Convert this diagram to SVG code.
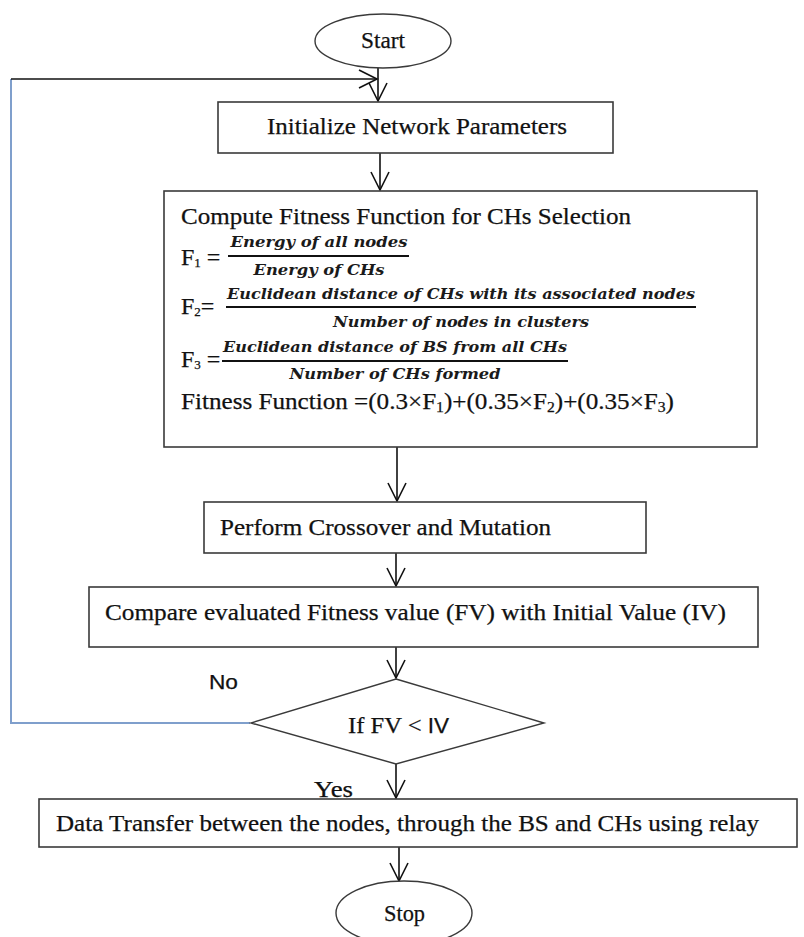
<svg xmlns="http://www.w3.org/2000/svg" width="804" height="937" viewBox="0 0 804 937">
<style>
.box{fill:#fff;stroke:#3a3a3a;stroke-width:1.6}
.t{font-family:"Liberation Serif","Times New Roman",serif;font-size:24px;fill:#111;stroke:#111;stroke-width:0.25}
.m{font-family:"DejaVu Serif",serif;font-style:italic;font-weight:bold;font-size:14px;fill:#1a1a1a}
.ln{stroke:#111;stroke-width:1.6;fill:none}
.fl{stroke:#111;stroke-width:2}
.fb{stroke:#7f9fcc;stroke-width:2;fill:none}
</style>
<defs>
<marker id="ah" markerWidth="24" markerHeight="24" refX="19" refY="10" orient="auto" markerUnits="userSpaceOnUse">
<path d="M1,1 L19,10 L1,19" fill="none" stroke="#111" stroke-width="1.6"/>
</marker>
</defs>
<rect width="804" height="937" fill="#fff"/>
<g id="connectors">
<line class="ln" x1="378" y1="68" x2="378" y2="101" marker-end="url(#ah)"/>
<polyline class="fb" points="250,723 11,723 11,79"/>
<line class="ln" x1="11" y1="79" x2="377" y2="79" stroke-width="2" marker-end="url(#ah)"/>
<line class="ln" x1="380" y1="153" x2="380" y2="190" marker-end="url(#ah)"/>
<line class="ln" x1="397" y1="447" x2="397" y2="501" marker-end="url(#ah)"/>
<line class="ln" x1="396" y1="553" x2="396" y2="586" marker-end="url(#ah)"/>
<line class="ln" x1="396" y1="647" x2="396" y2="678" marker-end="url(#ah)"/>
<line class="ln" x1="396" y1="764" x2="396" y2="798" marker-end="url(#ah)"/>
<line class="ln" x1="399" y1="847" x2="399" y2="881" marker-end="url(#ah)"/>
<text x="209" y="689" font-family="Liberation Sans, Arial, sans-serif" font-size="21" fill="#111" stroke="#111" stroke-width="0.25" textLength="29" lengthAdjust="spacingAndGlyphs">No</text>
<text x="314" y="797" class="t" font-size="22" textLength="39" lengthAdjust="spacingAndGlyphs">Yes</text>
</g>
<g id="start">
<ellipse cx="383" cy="41" rx="68" ry="27" fill="#fff" stroke="#3a3a3a" stroke-width="1.4"/>
<text x="361" y="48" class="t" font-size="20" textLength="44" lengthAdjust="spacingAndGlyphs">Start</text>
</g>
<g id="init">
<rect class="box" x="218" y="102" width="395" height="51"/>
<text x="267" y="134" class="t" font-size="25" textLength="300" lengthAdjust="spacingAndGlyphs">Initialize Network Parameters</text>
</g>
<g id="compute">
<rect class="box" x="164" y="191" width="593" height="256"/>
<text x="181" y="224" class="t" textLength="450" lengthAdjust="spacingAndGlyphs">Compute Fitness Function for CHs Selection</text>
<text x="181" y="265" class="t" font-size="21">F<tspan font-size="13" dy="2">1</tspan><tspan dy="-2"> =</tspan></text>
<text x="319" y="247" class="m" text-anchor="middle" textLength="177" lengthAdjust="spacingAndGlyphs">Energy of all nodes</text>
<line class="fl" x1="228" y1="256" x2="409" y2="256"/>
<text x="319" y="275" class="m" text-anchor="middle" textLength="131" lengthAdjust="spacingAndGlyphs">Energy of CHs</text>
<text x="181" y="314" class="t" font-size="21">F<tspan font-size="13" dy="2">2</tspan><tspan dy="-2">=</tspan></text>
<text x="461" y="299" class="m" text-anchor="middle" textLength="468" lengthAdjust="spacingAndGlyphs">Euclidean distance of CHs with its associated nodes</text>
<line class="fl" x1="226" y1="307" x2="696" y2="307"/>
<text x="461" y="327" class="m" text-anchor="middle" textLength="256" lengthAdjust="spacingAndGlyphs">Number of nodes in clusters</text>
<text x="181" y="367" class="t" font-size="21">F<tspan font-size="13" dy="2">3</tspan><tspan dy="-2"> =</tspan></text>
<text x="395" y="352" class="m" text-anchor="middle" textLength="344" lengthAdjust="spacingAndGlyphs">Euclidean distance of BS from all CHs</text>
<line class="fl" x1="222" y1="361" x2="568" y2="361"/>
<text x="395" y="379" class="m" text-anchor="middle" textLength="211" lengthAdjust="spacingAndGlyphs">Number of CHs formed</text>
<text x="181" y="409" class="t" textLength="493" lengthAdjust="spacingAndGlyphs">Fitness Function =(0.3×F<tspan font-size="15" dy="3">1</tspan><tspan dy="-3">)+(0.35×F</tspan><tspan font-size="15" dy="3">2</tspan><tspan dy="-3">)+(0.35×F</tspan><tspan font-size="15" dy="3">3</tspan><tspan dy="-3">)</tspan></text>
</g>
<g id="perform">
<rect class="box" x="204" y="502" width="442" height="51"/>
<text x="220" y="535" class="t" textLength="331" lengthAdjust="spacingAndGlyphs">Perform Crossover and Mutation</text>
</g>
<g id="compare">
<rect class="box" x="89" y="587" width="669" height="60"/>
<text x="105" y="620" class="t" textLength="621" lengthAdjust="spacingAndGlyphs">Compare evaluated Fitness value (FV) with Initial Value (IV)</text>
</g>
<g id="decision">
<polygon points="396,679 544,723 396,764 251,723" fill="#fff" stroke="#3a3a3a" stroke-width="1.4"/>
<text x="348" y="733" class="t" textLength="101" lengthAdjust="spacingAndGlyphs">If FV &lt; <tspan font-family="Liberation Sans, Arial, sans-serif" font-size="22">IV</tspan></text>
</g>
<g id="transfer">
<rect class="box" x="39" y="799" width="758" height="48"/>
<text x="56" y="831" class="t" textLength="703" lengthAdjust="spacingAndGlyphs">Data Transfer between the nodes, through the BS and CHs using relay</text>
</g>
<g id="stop">
<ellipse cx="404" cy="913" rx="68" ry="32" fill="#fff" stroke="#3a3a3a" stroke-width="1.4"/>
<text x="384" y="921" class="t" font-size="20" textLength="41" lengthAdjust="spacingAndGlyphs">Stop</text>
</g>
</svg>
